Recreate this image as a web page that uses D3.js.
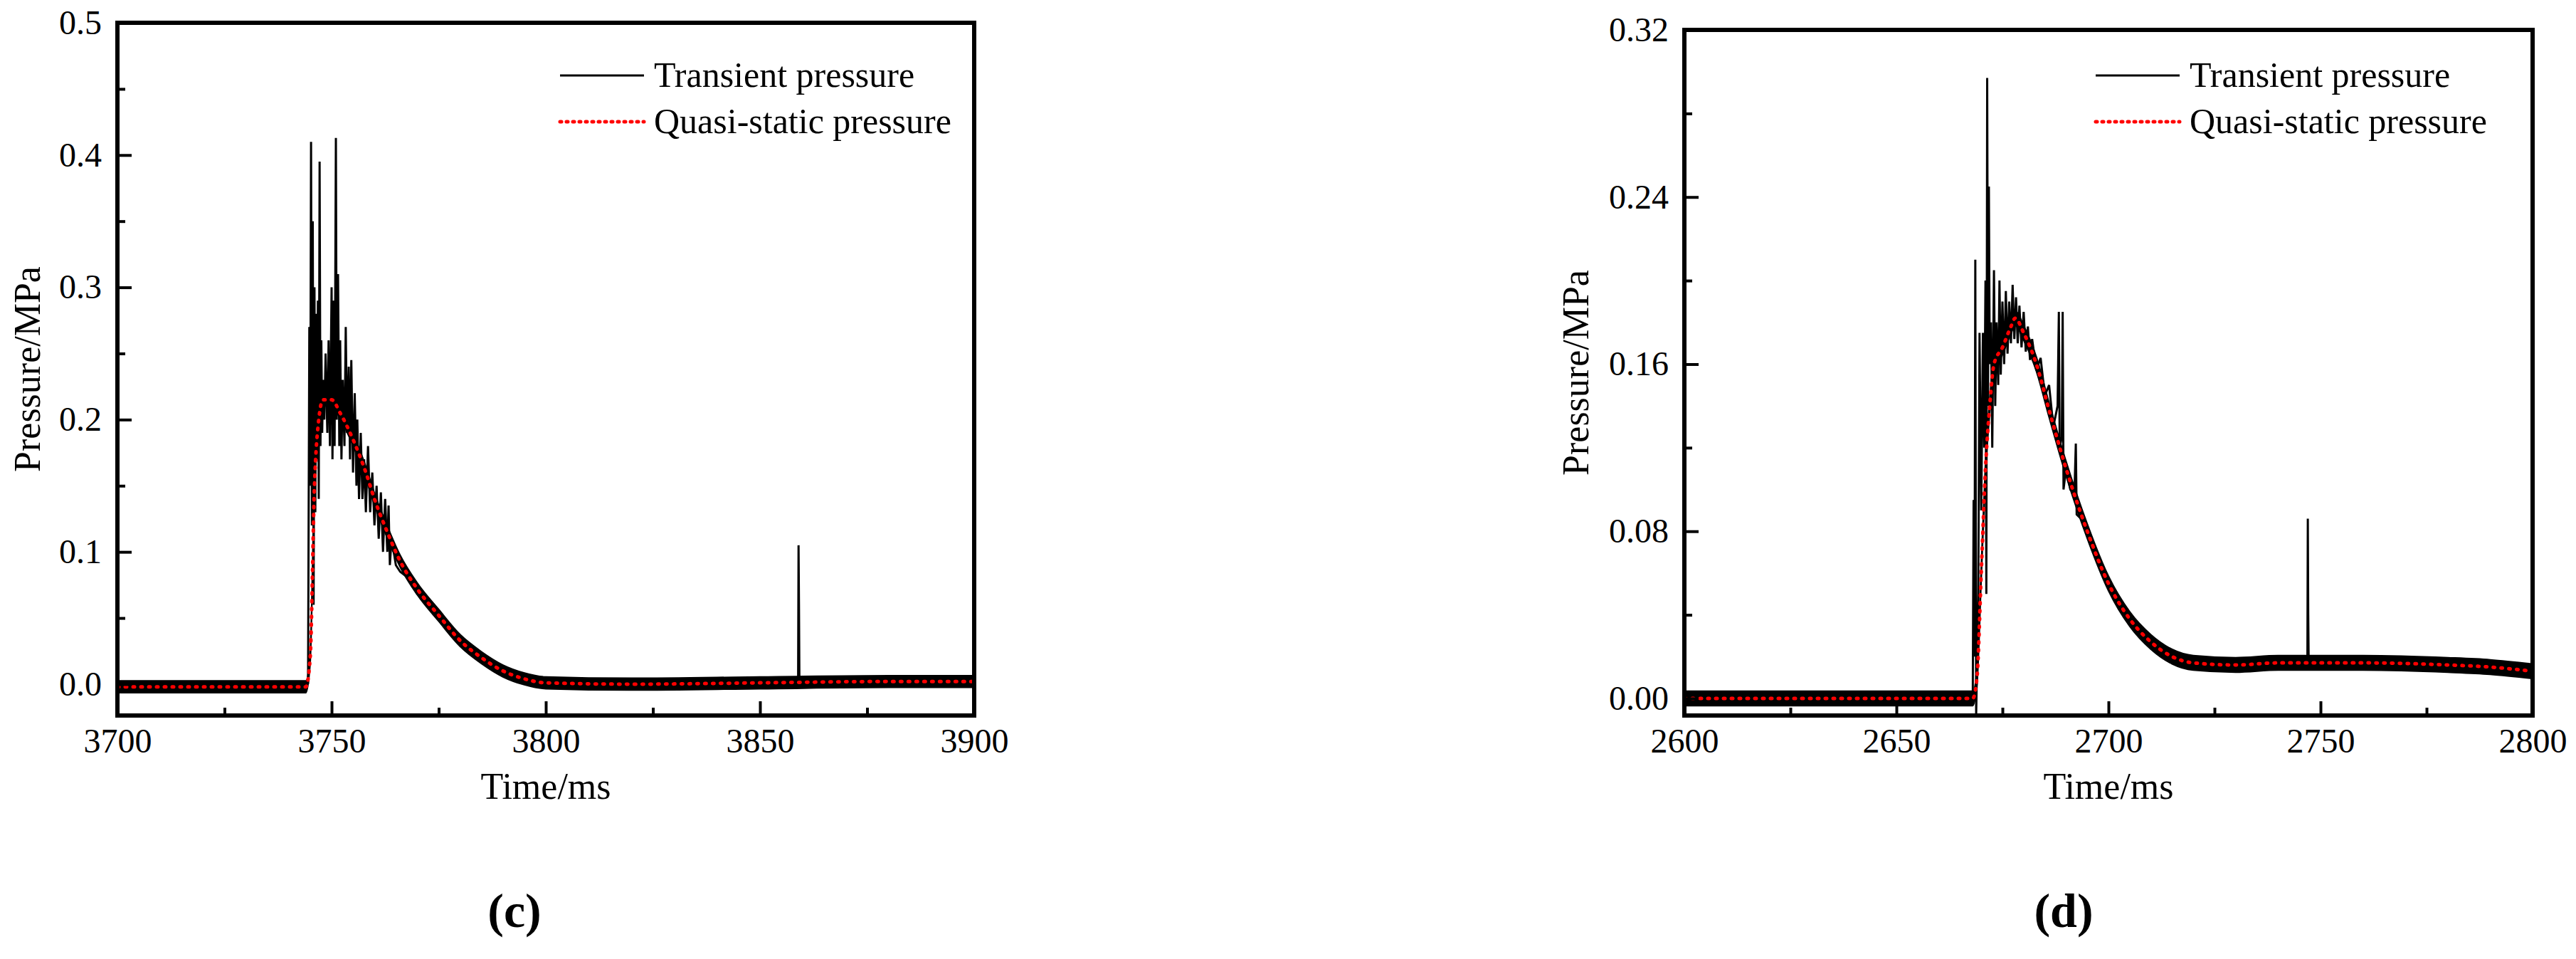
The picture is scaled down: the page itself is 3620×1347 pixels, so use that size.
<!DOCTYPE html>
<html><head><meta charset="utf-8">
<script src="https://cdn.jsdelivr.net/npm/d3@7"></script>
<style>body{margin:0;background:#fff}</style>
</head><body><svg id="s" width="3620" height="1347"></svg>
<script>
// ---- data: chart (c)
const xTicksC=[3700,3750,3800,3850,3900];
const yTicksC=[0,0.1,0.2,0.3,0.4,0.5];
const quasiC=[[3700,-0.002],[3744,-0.002],[3745,0.02],[3746,0.15],[3747,0.2],[3748,0.215],[3750,0.215],[3752,0.205],[3755,0.185],[3758,0.16],[3760,0.14],[3763,0.115],[3766,0.093],[3770,0.072],[3775,0.052],[3780,0.033],[3785,0.02],[3790,0.01],[3795,0.004],[3800,0.001],[3820,0.0],[3850,0.001],[3880,0.002],[3900,0.002]];
const peakC=[[3744.5,0.0],[3744.8,0.27],[3745,0.15],[3745.2,0.41],[3745.4,0.12],[3745.6,0.35],[3745.8,0.06],[3746,0.3],[3746.2,0.13],[3746.4,0.28],[3746.6,0.17],[3746.8,0.29],[3747,0.14],[3747.2,0.395],[3747.4,0.18],[3747.6,0.26],[3747.8,0.19],[3748,0.23],[3748.3,0.2],[3748.6,0.25],[3749,0.19],[3749.3,0.26],[3749.6,0.18],[3750,0.3],[3750.2,0.17],[3750.5,0.29],[3750.7,0.18],[3751,0.413],[3751.2,0.2],[3751.5,0.31],[3751.8,0.18],[3752,0.26],[3752.3,0.17],[3752.6,0.23],[3753,0.18],[3753.3,0.27],[3753.6,0.19],[3754,0.24],[3754.3,0.17],[3754.6,0.245],[3755,0.16],[3755.4,0.22],[3755.8,0.15],[3756,0.2],[3756.4,0.14],[3756.8,0.19],[3757.2,0.14],[3757.6,0.17],[3758,0.13],[3758.5,0.18],[3759,0.13],[3759.5,0.16],[3760,0.12],[3760.5,0.15],[3761,0.11],[3761.5,0.145],[3762,0.1],[3762.5,0.14],[3763,0.1],[3763.3,0.135],[3763.6,0.09],[3764,0.11],[3765,0.09],[3766,0.085],[3768,0.08],[3770,0.07]];
const spikeC=[[3858.9,0.003],[3859,0.105],[3859.1,0.06],[3859.2,0.003]];
const bandC=0.0045;
// ---- data: chart (d)
const xTicksD=[2600,2650,2700,2750,2800];
const yTicksD=[0,0.08,0.16,0.24,0.32];
const quasiD=[[2600,0],[2668,0],[2669,0.01],[2670,0.06],[2671,0.11],[2672,0.14],[2673,0.16],[2675,0.168],[2677,0.178],[2678,0.182],[2680,0.175],[2683,0.16],[2686,0.138],[2690,0.11],[2695,0.08],[2700,0.055],[2705,0.038],[2710,0.027],[2715,0.02],[2720,0.017],[2730,0.016],[2740,0.017],[2750,0.017],[2760,0.017],[2780,0.016],[2790,0.015],[2800,0.013]];
const peakD=[[2668,0],[2668.2,0.095],[2668.4,0.02],[2668.6,0.21],[2668.8,-0.008],[2669.3,0.05],[2669.6,0.175],[2670,0.09],[2670.4,0.175],[2670.7,0.12],[2671,0.2],[2671.2,0.05],[2671.4,0.297],[2671.6,0.14],[2671.8,0.245],[2672,0.16],[2672.3,0.18],[2672.6,0.12],[2673,0.205],[2673.3,0.14],[2673.6,0.18],[2674,0.15],[2674.3,0.2],[2674.6,0.155],[2675,0.19],[2675.4,0.16],[2675.8,0.195],[2676.2,0.165],[2676.6,0.19],[2677,0.17],[2677.4,0.198],[2677.8,0.172],[2678.2,0.192],[2678.6,0.17],[2679,0.188],[2679.5,0.168],[2680,0.185],[2680.5,0.166],[2681,0.178],[2681.5,0.162],[2682,0.172],[2683,0.157],[2684,0.163],[2685,0.145],[2686,0.15],[2687,0.13],[2688,0.14],[2688.3,0.185],[2688.5,0.12],[2689,0.125],[2689.2,0.185],[2689.4,0.1],[2690,0.11],[2691,0.1],[2692,0.1],[2692.3,0.122],[2692.5,0.088],[2694,0.085],[2696,0.072]];
const spikeD=[[2746.9,0.017],[2747,0.086],[2747.1,0.04],[2747.2,0.017]];
const bandD=0.0035;
const legendLabels=["Transient pressure","Quasi-static pressure"];
const FONT="Liberation Serif";

const svg=d3.select("#s");
function chart(o){
  const x=d3.scaleLinear().domain(o.xd).range([o.l,o.r]);
  const y=d3.scaleLinear().domain(o.yd).range([o.b,o.t]);
  const g=svg.append("g");
  const clip="c"+o.id;
  g.append("clipPath").attr("id",clip).append("rect").attr("x",o.l).attr("y",o.t).attr("width",o.r-o.l).attr("height",o.b-o.t);
  const pg=g.append("g").attr("clip-path",`url(#${clip})`);
  pg.append("path").datum(o.quasi).attr("fill","#000").attr("stroke","#000").attr("stroke-width",2)
    .attr("d",d3.area().curve(d3.curveMonotoneX).x(d=>x(d[0])).y0(d=>y(d[1]-o.band)).y1(d=>y(d[1]+o.band)));
  const ln=d3.line().x(d=>x(d[0])).y(d=>y(d[1]));
  [o.peak,o.spike].forEach(p=>pg.append("path").datum(p).attr("fill","none").attr("stroke","#000").attr("stroke-width",3).attr("d",ln));
  pg.append("path").datum(o.quasi).attr("fill","none").attr("stroke","#ff0000").attr("stroke-width",5)
    .attr("stroke-dasharray","2,9").attr("stroke-linecap","round").attr("d",d3.line().curve(d3.curveMonotoneX).x(d=>x(d[0])).y(d=>y(d[1])));
  const xa=g.append("g").attr("transform",`translate(0,${o.b})`).call(d3.axisBottom(x).tickValues(o.xt).tickSize(-20).tickPadding(18).tickFormat(d3.format("d")));
  const xm=g.append("g").attr("transform",`translate(0,${o.b})`).call(d3.axisBottom(x).tickValues(d3.pairs(o.xt).map(p=>(p[0]+p[1])/2)).tickSize(-11).tickFormat(""));
  const ya=g.append("g").attr("transform",`translate(${o.l},0)`).call(d3.axisLeft(y).tickValues(o.yt).tickSize(-20).tickPadding(22).tickFormat(d3.format(o.yf)));
  const ym=g.append("g").attr("transform",`translate(${o.l},0)`).call(d3.axisLeft(y).tickValues(d3.pairs(o.yt).map(p=>(p[0]+p[1])/2)).tickSize(-11).tickFormat(""));
  [xa,xm,ya,ym].forEach(a=>{a.attr("font-family",FONT).attr("font-size",48);a.select(".domain").remove();a.selectAll("line").attr("stroke","#000").attr("stroke-width",4);a.selectAll("text").attr("font-size",48).attr("fill","#000").attr("font-family",FONT);});
  g.append("rect").attr("x",o.l).attr("y",o.t).attr("width",o.r-o.l).attr("height",o.b-o.t).attr("fill","none").attr("stroke","#000").attr("stroke-width",6);
  g.append("text").attr("font-family",FONT).attr("x",(o.l+o.r)/2).attr("y",1122).attr("text-anchor","middle").attr("font-size",52).text("Time/ms");
  g.append("text").attr("font-family",FONT).attr("transform",`translate(${o.yl},${(o.t+o.b)/2}) rotate(-90)`).attr("text-anchor","middle").attr("font-size",52).text("Pressure/MPa");
  legendLabels.forEach((lab,i)=>{
    const yy=o.legY+i*65;
    g.append("line").attr("x1",o.legX).attr("x2",o.legX+118).attr("y1",yy).attr("y2",yy).attr("stroke",i?"#ff0000":"#000").attr("stroke-width",i?5:3)
      .attr("stroke-dasharray",i?"2,7":null).attr("stroke-linecap",i?"round":"butt");
    g.append("text").attr("font-family",FONT).attr("x",o.legX+132).attr("y",yy+16).attr("font-size",50).text(lab);
  });
  g.append("text").attr("font-family",FONT).attr("x",o.capX).attr("y",1302).attr("text-anchor","middle").attr("font-size",68).attr("font-weight","bold").text(o.cap);
}
chart({id:"c",xd:[3700,3900],yd:[-0.0237,0.5],l:165,r:1369,t:32,b:1005,xt:xTicksC,yt:yTicksC,yf:".1f",quasi:quasiC,peak:peakC,spike:spikeC,band:bandC,yl:56,legX:787,legY:106,capX:723,cap:"(c)"});
chart({id:"d",xd:[2600,2800],yd:[-0.0082,0.32],l:2367,r:3559,t:42,b:1005,xt:xTicksD,yt:yTicksD,yf:".2f",quasi:quasiD,peak:peakD,spike:spikeD,band:bandD,yl:2232,legX:2945,legY:106,capX:2900,cap:"(d)"});
</script></body></html>
